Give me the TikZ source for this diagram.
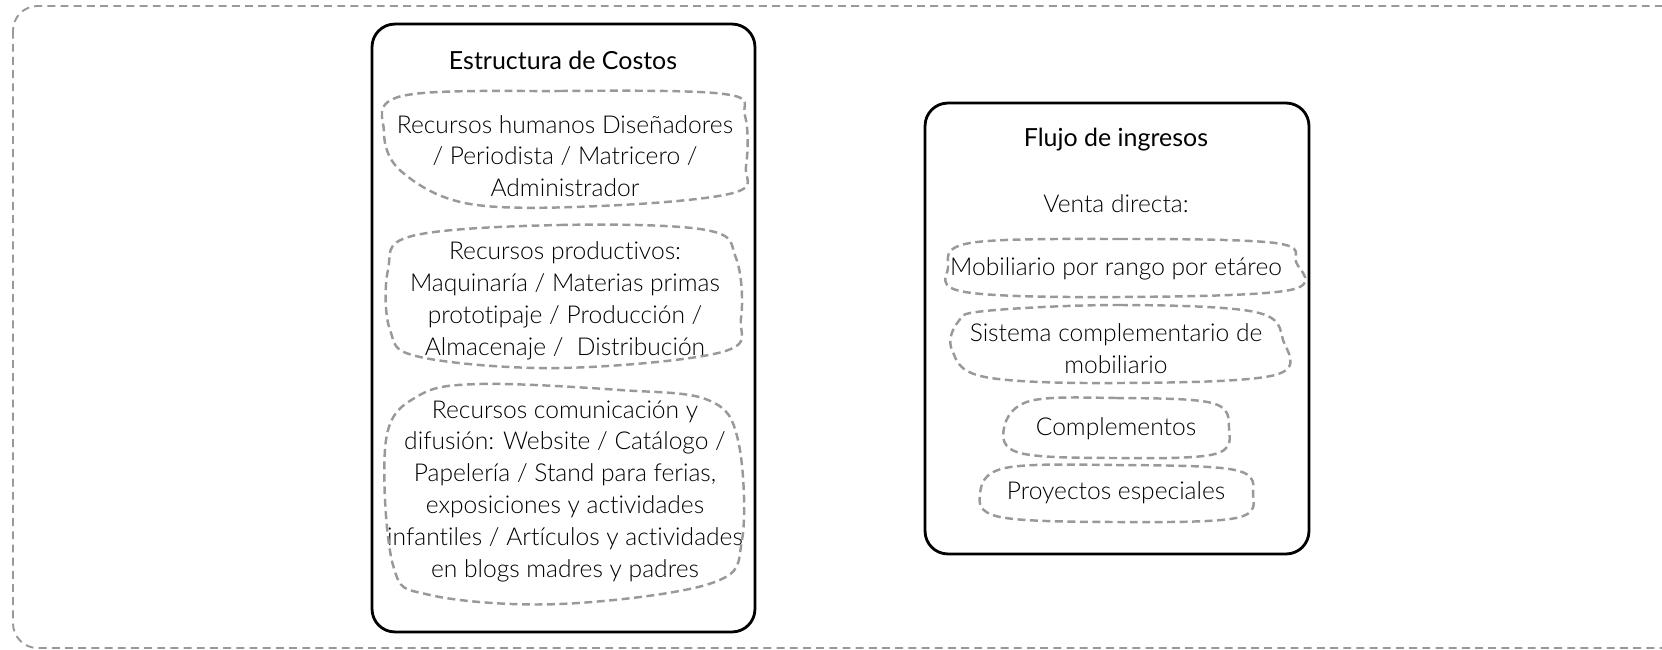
\documentclass[tikz,border=0pt]{standalone}
\usepackage{fontspec}
\IfFontExistsTF{Lato Light}{\setmainfont{Lato Light}[Ligatures=CommonOff]}{\setmainfont{Lato}[Ligatures=CommonOff]}
\newfontfamily\headfont{Lato}[Ligatures=CommonOff]
\usetikzlibrary{positioning}
\definecolor{dashgray}{gray}{0.6}
\tikzset{
  frame/.style  = {draw, line width=1.6pt, rounded corners=13pt, inner sep=0pt},
  blob/.style   = {draw=dashgray, line width=1.4pt, dash pattern=on 4.5pt off 2.6pt},
  outer/.style  = {draw=dashgray, line width=1.1pt, dash pattern=on 4.5pt off 3pt,
                   rounded corners=14pt},
  head/.style   = {font=\headfont\fontsize{14.2}{18}\selectfont, align=center},
  body/.style   = {font=\fontsize{14}{18.1}\selectfont, align=center, inner sep=0pt}
}

\begin{document}
\begin{tikzpicture}[x=0.02cm, y=-0.02cm]

  \useasboundingbox (0,0) rectangle (1662,649);

  % ── outer frame ──────────────────────────────────────────
  \draw[outer] (13,6) rectangle (1700,648);

  % ── Estructura de Costos ─────────────────────────────────
  \node[frame, minimum width=7.66cm, minimum height=12.16cm] (costos) at (563.5,328) {};
  \node[head] (costostit) at (563,60) {Estructura de Costos};

  \node[body] (humanos) at (565,156)
    {Recursos humanos Diseñadores\\ / Periodista / Matricero /\\ Administrador};
  \draw[blob] plot[smooth cycle, tension=0.6] coordinates
    {(402,96) (560,91) (724,94) (745,116) (746,166) (733,193) (600,206)
     (470,204) (402,172) (384,132)};

  \node[body] (productivos) at (565,301)
    {Recursos productivos:\\ Maquinaría / Materias primas\\ prototipaje / Producción /\\ Almacenaje /~~Distribución};
  \draw[blob] plot[smooth cycle, tension=0.6] coordinates
    {(412,236) (560,225) (706,230) (736,258) (741,318) (722,352) (560,368)
     (420,357) (390,330) (388,270)};

  \node[body] (comunicacion) at (565,491)
    {Recursos comunicación y\\ difusión: Website / Catálogo /\\ Papelería / Stand para ferias,\\
     exposiciones y actividades\\ infantiles / Artículos y actividades\\ en blogs madres y padres};
  \draw[blob] plot[smooth cycle, tension=0.6] coordinates
    {(418,396) (480,384) (620,390) (708,400) (738,440) (742,540) (712,583)
     (560,604) (430,595) (393,565) (386,440)};

  % ── Flujo de ingresos ────────────────────────────────────
  \node[frame, minimum width=7.68cm, minimum height=9.02cm] (ingresos) at (1117,328.5) {};
  \node[head] (ingresostit) at (1116,140) {Flujo de ingresos};
  \node[body] (venta) at (1116,204) {Venta directa:};

  \node[body] (mobiliario) at (1116,269) {Mobiliario por rango por etáreo};
  \draw[blob] plot[smooth cycle, tension=0.6] coordinates
    {(970,243) (1120,239) (1275,243) (1296,262) (1290,290) (1120,297) (965,292) (948,268)};

  \node[body] (sistema) at (1116,349) {Sistema complementario de\\ mobiliario};
  \draw[blob] plot[smooth cycle, tension=0.6] coordinates
    {(985,311) (1120,305) (1255,312) (1283,340) (1275,375) (1120,383)
     (985,377) (952,350) (958,322)};

  \node[body] (complementos) at (1116,429) {Complementos};
  \draw[blob] plot[smooth cycle, tension=0.6] coordinates
    {(1030,401) (1116,398) (1212,403) (1229,428) (1215,454) (1116,458) (1020,453) (1004,428)};

  \node[body] (proyectos) at (1116,493) {Proyectos especiales};
  \draw[blob] plot[smooth cycle, tension=0.6] coordinates
    {(1005,468) (1116,465) (1235,470) (1253,494) (1236,518) (1116,522) (1000,517) (980,494)};

\end{tikzpicture}
\end{document}
